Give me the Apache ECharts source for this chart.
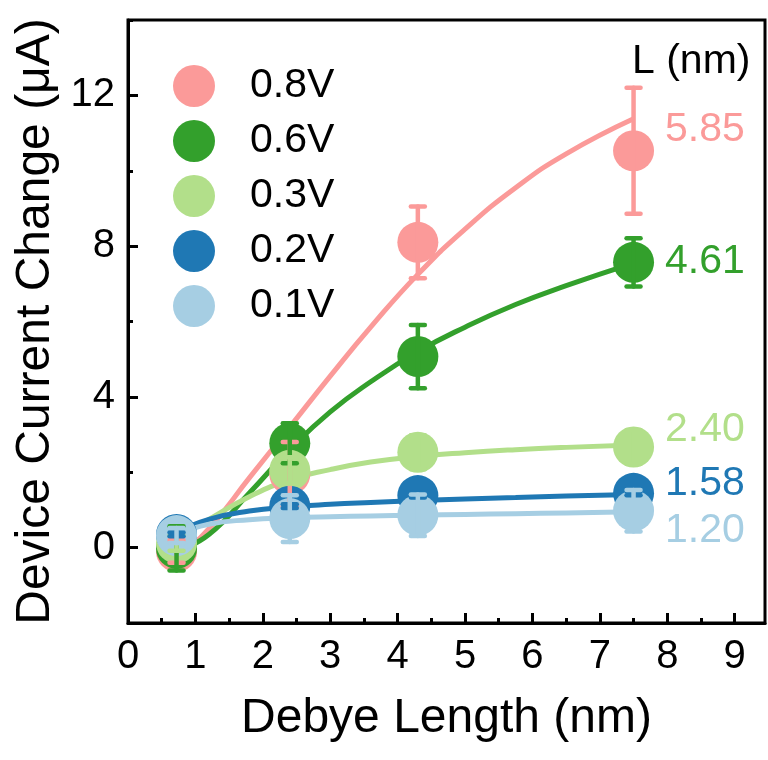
<!DOCTYPE html>
<html>
<head>
<meta charset="utf-8">
<script src="https://cdn.jsdelivr.net/npm/echarts@6/dist/echarts.min.js"></script>
<style>html,body{margin:0;padding:0;background:#fff}#c{width:768px;height:760px}</style>
</head>
<body>
<div id="c"></div>
<script>
// ---- data ----
const xVals = [0.72, 2.4, 4.3, 7.5];
const seriesNames = ['0.8V', '0.6V', '0.3V', '0.2V', '0.1V'];
const seriesColors = ['#FB9A99', '#33A02C', '#B2DF8A', '#1F78B4', '#A6CEE3'];
const val08 = [-0.1, 1.95, 8.1, 10.53];
const err08 = [0.3, 0.85, 0.95, 1.67];
const val06 = [-0.02, 2.77, 5.07, 7.57];
const err06 = [0.59, 0.53, 0.84, 0.64];
const val03 = [0.12, 2.05, 2.53, 2.67];
const err03 = [0.2, 0.35, 0.45, 0.45];
const val02 = [0.35, 1.1, 1.38, 1.44];
const err02 = [0.05, 0.05, 0.05, 0.05];
const val01 = [0.32, 0.77, 0.86, 0.98];
const err01 = [0.2, 0.62, 0.55, 0.55];
// fitted curves (at these x positions)
const fitX   = [0.72, 1.2, 1.8, 2.4, 3.0, 3.6, 4.3, 5.0, 5.75, 6.5, 7.5];
const fit08Y = [-0.3, 0.5, 1.85, 3.2, 4.55, 5.85, 7.25, 8.45, 9.55, 10.45, 11.38];
const fit06Y = [-0.1, 0.35, 1.45, 2.6, 3.6, 4.4, 5.2, 5.85, 6.45, 6.95, 7.55];
const fit03Y = [0.25, 0.75, 1.35, 1.8, 2.07, 2.27, 2.42, 2.52, 2.6, 2.66, 2.72];
const fit02Y = [0.4, 0.75, 0.97, 1.08, 1.15, 1.2, 1.25, 1.29, 1.33, 1.37, 1.41];
const fit01Y = [0.35, 0.62, 0.74, 0.79, 0.82, 0.84, 0.86, 0.88, 0.9, 0.92, 0.95];
const lengthLabels = ['5.85', '4.61', '2.40', '1.58', '1.20'];
const lengthTitle = 'L (nm)';
const xTickLabels = [0, 1, 2, 3, 4, 5, 6, 7, 8, 9];
const yTickLabels = [0, 4, 8, 12];
const xTitle = 'Debye Length (nm)';
const yTitle = 'Device Current Change (μA)';

const vals = [val08, val06, val03, val02, val01];
const errs = [err08, err06, err03, err02, err01];
const fitsY = [fit08Y, fit06Y, fit03Y, fit02Y, fit01Y];

const FONT = '"Liberation Sans", Arial, sans-serif';
const zip = (a, b) => a.map((v, i) => [v, b[i]]);

const series = [];
// fit lines
seriesNames.forEach((n, i) => {
  series.push({
    type: 'line', name: n + ' fit', data: zip(fitX, fitsY[i]),
    smooth: 0.5, showSymbol: false, symbol: 'none', z: 2,
    lineStyle: { color: seriesColors[i], width: 5 }, silent: true
  });
});
// markers
seriesNames.forEach((n, i) => {
  series.push({
    type: 'scatter', name: n, data: zip(xVals, vals[i]),
    symbol: 'circle', symbolSize: 41, z: 3,
    itemStyle: { color: seriesColors[i], opacity: 1 }
  });
});
// error bars
seriesNames.forEach((n, i) => {
  series.push({
    type: 'custom', name: n + ' err', z: 4, silent: true,
    data: xVals.map((x, k) => [x, vals[i][k], errs[i][k]]),
    renderItem: function (params, api) {
      const x = api.value(0), y = api.value(1), e = api.value(2);
      const top = api.coord([x, y + e]);
      const bot = api.coord([x, y - e]);
      const hw = 7;
      const st = { stroke: seriesColors[i], lineWidth: 4.5, lineCap: 'round' };
      return {
        type: 'group',
        children: [
          { type: 'line', shape: { x1: top[0], y1: top[1], x2: bot[0], y2: bot[1] }, style: st },
          { type: 'line', shape: { x1: top[0] - hw, y1: top[1], x2: top[0] + hw, y2: top[1] }, style: st },
          { type: 'line', shape: { x1: bot[0] - hw, y1: bot[1], x2: bot[0] + hw, y2: bot[1] }, style: st }
        ]
      };
    }
  });
});

const labelY = [130, 262, 430, 484, 531];
const graphics = [
  { type: 'text', x: 632, y: 62, style: { text: lengthTitle, font: '41px ' + FONT, fill: '#000', verticalAlign: 'middle' } }
];
lengthLabels.forEach((t, i) => {
  graphics.push({ type: 'text', x: 665, y: labelY[i], style: { text: t, font: '41px ' + FONT, fill: seriesColors[i], verticalAlign: 'middle' } });
});

const chart = echarts.init(document.getElementById('c'), null, { renderer: 'canvas' });
chart.setOption({
  animation: false,
  backgroundColor: '#fff',
  grid: { left: 128, right: 3, top: 20, bottom: 137, show: true, borderColor: '#000', borderWidth: 3, backgroundColor: 'transparent' },
  legend: {
    data: seriesNames, orient: 'vertical', left: 173, top: 65, padding: 0,
    icon: 'circle', itemWidth: 42, itemHeight: 42, itemGap: 13,
    textStyle: { fontSize: 41, fontFamily: FONT, color: '#000', padding: [0, 0, 0, 30], lineHeight: 42 },
    selectedMode: false
  },
  xAxis: [{
    type: 'value', min: 0, max: 9.45, interval: 1,
    name: xTitle, nameLocation: 'middle', nameGap: 72,
    nameTextStyle: { fontSize: 48, fontFamily: FONT, color: '#000' },
    axisLine: { show: true, onZero: false, lineStyle: { color: '#000', width: 3 } },
    axisTick: { show: true, inside: true, length: 10, lineStyle: { color: '#000', width: 3 }, customValues: xTickLabels },
    minorTick: { show: true, splitNumber: 2, length: 5, lineStyle: { color: '#000', width: 3 } },
    axisLabel: { fontSize: 40, fontFamily: FONT, color: '#000', margin: 14, customValues: xTickLabels, showMaxLabel: true },
    splitLine: { show: false }, minorSplitLine: { show: false }
  }],
  yAxis: [{
    type: 'value', min: -2, max: 14, interval: 2,
    name: yTitle, nameLocation: 'middle', nameGap: 68,
    nameTextStyle: { fontSize: 48, fontFamily: FONT, color: '#000' },
    axisLine: { show: true, onZero: false, lineStyle: { color: '#000', width: 3 } },
    axisTick: { show: true, inside: true, length: 5, lineStyle: { color: '#000', width: 3 } },
    axisLabel: { fontSize: 40, fontFamily: FONT, color: '#000', margin: 13, customValues: yTickLabels },
    splitLine: { show: false }
  }, {
    type: 'value', min: -2, max: 14, position: 'left',
    axisLine: { show: false, onZero: false },
    axisTick: { show: true, inside: true, length: 10, lineStyle: { color: '#000', width: 3 }, customValues: yTickLabels },
    axisLabel: { show: false }, splitLine: { show: false }
  }],
  series: series,
  graphic: graphics
});
</script>
</body>
</html>
